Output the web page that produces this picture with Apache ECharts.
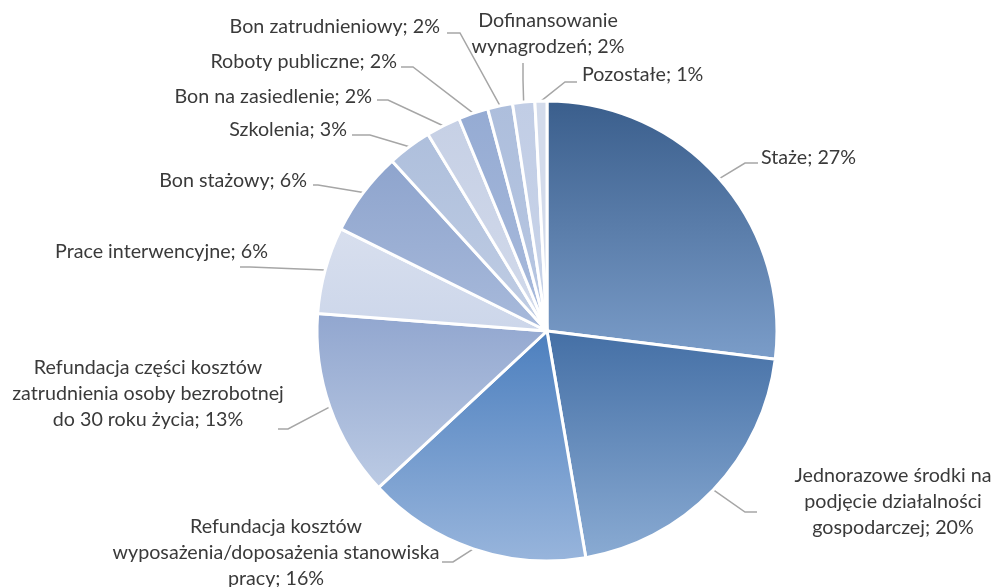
<!DOCTYPE html>
<html>
<head>
<meta charset="utf-8">
<script src="https://cdn.jsdelivr.net/npm/echarts@6/dist/echarts.min.js"></script>
<style>
  html, body { margin: 0; padding: 0; background: #fff; }
  #chart { width: 993px; height: 587px; }
</style>
</head>
<body>
<div id="chart"></div>
<script>
// shares (percent), clockwise from 12 o'clock
var categories = [
    'Staże',
    'Jednorazowe środki na\npodjęcie działalności\ngospodarczej',
    'Refundacja kosztów\nwyposażenia/doposażenia stanowiska\npracy',
    'Refundacja części kosztów\nzatrudnienia osoby bezrobotnej\ndo 30 roku życia',
    'Prace interwencyjne',
    'Bon stażowy',
    'Szkolenia',
    'Bon na zasiedlenie',
    'Roboty publiczne',
    'Bon zatrudnieniowy',
    'Dofinansowanie\nwynagrodzeń',
    'Pozostałe'
];
var shares = [26.9, 20.3, 15.75, 13.1, 6.1, 5.9, 3.1, 2.4, 2.1, 1.75, 1.55, 0.84];

// gradient top/bottom colours per slice
var colorTop = ['#3a5e8c', '#446fa5', '#4c7fbe', '#91a6cf', '#d8dfee', '#8ea4cd',
                '#aebfdc', '#c6d0e5', '#95abd3', '#adbedc', '#c1cde5', '#d3dbeb'];
var colorBottom = ['#7b9dc9', '#8aabd3', '#98b5dc', '#bccbe4', '#ccd6ea', '#a8badb',
                   '#c0cde4', '#d2daeb', '#a9bbdc', '#b8c7e2', '#c9d4e9', '#d3dbeb'];

// label placement (text anchor, alignment) and leader line bend/end points
var labelPlace = [
    {x: 761, y: 158, align: 'left',   bend: [745, 163], end: [758, 163]},
    {x: 893, y: 502, align: 'center', bend: [745, 512], end: [757, 512]},
    {x: 276, y: 553, align: 'center', bend: [453, 562], end: [442, 562]},
    {x: 148, y: 394, align: 'center', bend: [288, 429], end: [278, 429]},
    {x: 268, y: 252, align: 'right',  bend: [250, 267], end: [240, 267]},
    {x: 307, y: 181, align: 'right',  bend: [318, 185], end: [313, 185]},
    {x: 347, y: 130, align: 'right',  bend: [370, 135], end: [352, 135]},
    {x: 372, y: 97,  align: 'right',  bend: [388, 100], end: [377, 100]},
    {x: 397, y: 62,  align: 'right',  bend: [413, 67],  end: [401, 67]},
    {x: 440, y: 27,  align: 'right',  bend: [460, 33],  end: [447, 33]},
    {x: 548, y: 34,  align: 'center', bend: [523, 80],  end: [523, 63]},
    {x: 582, y: 75,  align: 'left',   bend: [565, 82],  end: [577, 82]}
];

var pieData = categories.map(function (name, i) {
    return {
        name: name,
        value: shares[i],
        itemStyle: {
            color: new echarts.graphic.LinearGradient(0, 0, 0, 1, [
                {offset: 0, color: colorTop[i]},
                {offset: 1, color: colorBottom[i]}
            ])
        }
    };
});

var option = {
    animation: false,
    backgroundColor: '#ffffff',
    series: [
        {
            type: 'pie',
            center: [547, 331],
            radius: 230,
            startAngle: 90,
            clockwise: true,
            avoidLabelOverlap: false,
            itemStyle: {
                borderColor: '#ffffff',
                borderWidth: 3
            },
            label: {
                show: true,
                position: 'outside',
                color: '#3a3a3a',
                fontFamily: 'Lato',
                fontSize: 19.7,
                lineHeight: 26,
                formatter: function (p) {
                    return p.name + '; ' + Math.round(p.percent) + '%';
                }
            },
            labelLine: {
                show: true,
                lineStyle: {color: '#a6a6a6', width: 1.5}
            },
            labelLayout: function (params) {
                var lp = labelPlace[params.dataIndex];
                var start = params.labelLinePoints ? params.labelLinePoints[0] : lp.bend;
                return {
                    x: lp.x,
                    y: lp.y,
                    align: lp.align,
                    verticalAlign: 'middle',
                    labelLinePoints: [start, lp.bend, lp.end]
                };
            },
            data: pieData
        }
    ]
};

var chart = document.getElementById('chart');
var chartContainer = echarts.init(chart);
chartContainer.setOption(option);
window.onresize = function () {
    chartContainer.resize();
};
</script>
</body>
</html>
